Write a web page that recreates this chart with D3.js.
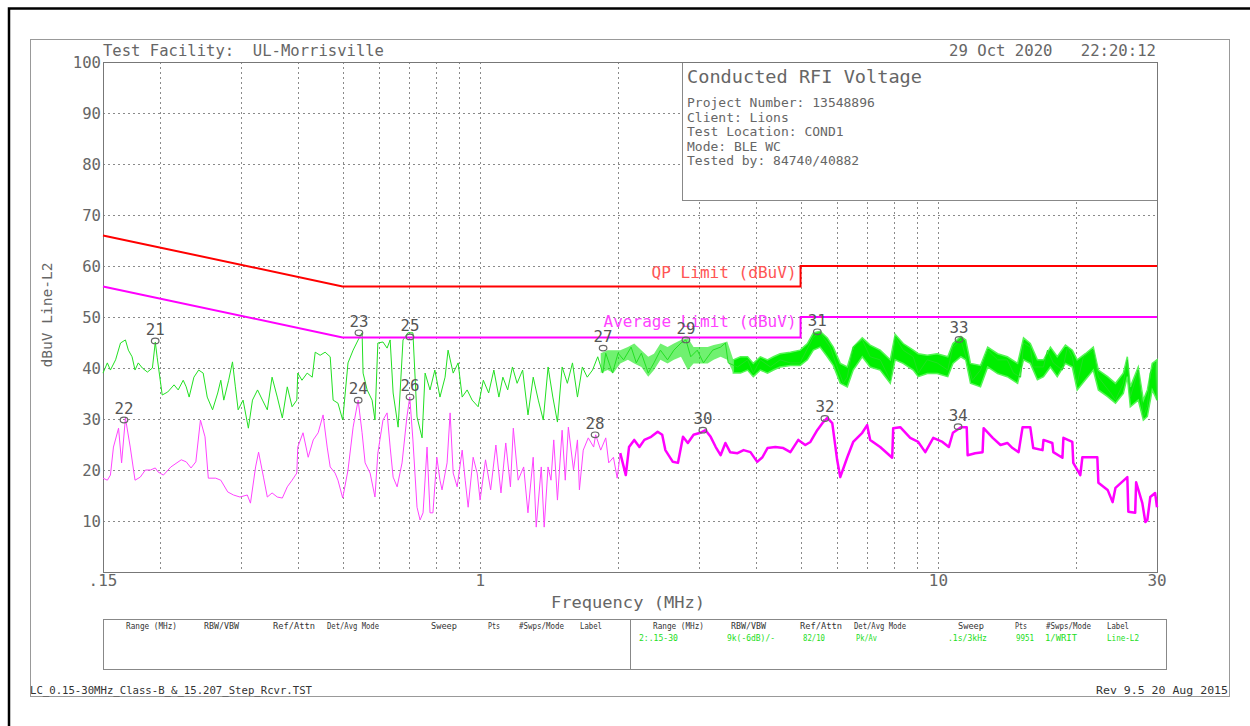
<!DOCTYPE html>
<html><head><meta charset="utf-8">
<script src="https://cdn.jsdelivr.net/npm/d3@7"></script>
<style>body{margin:0;background:#fff}svg{display:block}text{font-family:"DejaVu Sans Mono",monospace;white-space:pre}</style>
</head><body><svg id="c" width="1250" height="726"></svg>
<script>
// ---------- data ----------
const yTicks = [10,20,30,40,50,60,70,80,90,100];
const xTickVals = [0.15,1,10,30];
const xTickLabels = [".15","1","10","30"];
const gridFreqs = [0.2,0.3,0.4,0.5,0.6,0.7,0.8,0.9,1,2,3,4,5,6,7,8,9,10,20];

const qpFreq = [0.15,0.5,5,5,30];
const qpVal  = [66,56,56,60,60];
const avFreq = [0.15,0.5,5,5,30];
const avVal  = [56,46,46,50,50];

// peak detector trace (line)
const peakFreq = [0.15,0.1533,0.1557,0.1598,0.1638,0.1679,0.1704,0.1736,0.1762,0.1791,0.1828,0.1875,0.1923,0.1951,0.197,0.202,0.2077,0.2144,0.2189,0.2245,0.2279,0.2313,0.2369,0.2426,0.2482,0.2533,0.2602,0.267,0.2712,0.2753,0.2821,0.2876,0.2918,0.2959,0.3033,0.3115,0.318,0.3262,0.3344,0.3426,0.3509,0.3602,0.3695,0.3788,0.3881,0.3974,0.3993,0.4078,0.4186,0.4294,0.4359,0.4468,0.4582,0.47,0.477,0.4887,0.5005,0.514,0.5274,0.5409,0.5517,0.5545,0.5659,0.5801,0.5886,0.5972,0.6128,0.6256,0.6353,0.6449,0.6613,0.6778,0.6944,0.7123,0.7272,0.7459,0.7573,0.7763,0.7954,0.8161,0.8373,0.85,0.8721,0.8942,0.9125,0.9356,0.9593,0.9887,1.0149,1.0424,1.07,1.0975,1.1196,1.1471,1.1747,1.2027,1.2365,1.2703,1.3041,1.3378,1.3716,1.4054,1.4392,1.473,1.5081,1.5484,1.5887,1.629,1.6694,1.7111,1.7574,1.8037,1.85,1.8778,1.9426,1.9981,2.0542,2.1332,2.1896,2.2461,2.3251,2.3928,2.4718,2.562,2.6446,2.741,2.8099,2.8788,2.9752,3.0684,3.215,3.3453,3.4267,3.4756,3.6415,3.8302,3.9434,4.0851,4.2979,4.512,4.751,4.99,5.332,5.517,5.806,6.009,6.198,6.324,6.514,6.818,7.095,7.46,7.848,8.045,8.376,8.81,9.033,9.453,9.937,10.479,10.755,11.196,11.581,11.857,12.353,12.81,13.464,14.135,14.586,15.113,15.338,15.865,16.103,16.957,17.299,17.812,18.648,19.124,19.6,20.085,20.72,21.778,22.343,23.76,24.351,25.325,25.844,26.234,27.299,28.01,28.578,29.005,29.716,30];
const peakVal = [39,41,39.6,41.6,44.9,45.5,43.5,42.2,39.6,41,40,39.2,40,45.1,42,34.7,35.3,36.7,35.7,37.6,36.3,34.3,38.2,39.6,39,34.3,31.8,35.1,37.6,33.7,37.6,41.2,36.3,31.8,33.7,28.2,33.7,35.7,33.7,31.8,38.2,34.3,30.2,36.3,32.4,33.7,39,37.6,39,38.2,43.1,42.5,43.1,42.2,33.7,33.1,29.8,41,43.5,45.5,46.9,39,35.7,33.7,29.8,44.9,45.1,43.9,45.5,35.1,28.4,45.5,46.9,46.9,30.4,26.3,39,35.7,39.6,34.3,38.2,43.5,39,41,34.3,35.7,33.7,32.4,37.6,35.1,39.6,34.3,38.2,35.7,40.2,37,39.6,30.8,38.2,33.7,29.8,40.2,34.3,29.4,40.2,37,41,34.3,40.2,38.2,39.6,42.2,39,42.9,39,42.9,41.6,44.1,41,42.9,39,41,43.5,41.6,43.5,44.9,45.5,42.2,43.5,41,43.5,44.1,44.9,41,40.2,41.6,39,41.6,40.2,41.6,41,41,46.1,46.9,44.1,40.2,37,38.2,44.1,45.5,42.2,41.6,37.6,46.1,43.5,42.2,39,41.6,41,39.6,44.1,45.5,41,37.6,39.6,43.5,41.6,41.6,39,38.2,44.9,44.1,40.2,40.2,43.5,41,39.6,44.1,42.2,37,42.2,43.5,38.2,35.1,33.7,37,41.6,34.3,39.6,30.4,32.4,39,41,33.7];

// peak detector noise band (upper / lower envelope) above ~1.8 MHz
const bandFreq = [1.831,1.896,1.952,2.02,2.099,2.167,2.246,2.325,2.393,2.472,2.562,2.645,2.741,2.837,2.92,3.02,3.134,3.231,3.345,3.459,3.566,3.698,3.83,3.943,4.085,4.234,4.362,4.512,4.751,4.99,5.174,5.332,5.517,5.72,5.893,6.104,6.324,6.514,6.818,7.095,7.46,7.848,8.045,8.376,8.81,9.033,9.453,9.937,10.479,10.755,11.196,11.471,11.747,12.353,12.81,13.464,14.135,14.887,15.338,15.865,16.444,16.957,17.556,18.171,18.933,19.6,20.085,20.931,21.778,22.343,23.406,24.351,25.325,25.844,26.234,27.299,28.01,28.578,29.289,30];
const bandHi = [42.9,43.5,43.5,43.5,44.1,44.8,43.5,42.2,42.8,44.8,44.1,44.8,45.5,45.9,44.1,44.1,44.1,44.5,44.8,45.2,41.6,42.2,42.2,40.9,42.2,41.6,42.2,42.8,43.1,43.5,44.8,46.9,47.2,45.9,44.1,40.9,40.2,44.1,45.9,44.5,43.5,41.6,46.6,44.8,43.5,42.8,42.5,42.8,42.2,44.8,46.2,45.5,40.9,40.5,44.1,42.8,42.2,40.9,45.9,44.8,41.6,41.6,44.1,42.2,44.5,43.5,41.6,42.8,44.1,39.6,38.3,37,39,42.2,36.3,40.2,33.7,35.7,40.9,41.6];
const bandLo = [39,39.6,39,40.9,41.6,40.9,40.2,38.3,39.6,41.6,40.9,41.6,42.2,39.6,40.9,40.9,40.9,41.6,42.2,41.6,39,39,39.6,38.3,39.6,39,39.6,40.2,40.5,40.5,41.6,43.5,44.1,42.2,40.5,37,36.3,39.6,42.2,40.2,39.6,37,41.6,40.9,39.6,38.3,38.9,38.9,38.3,40.9,42.2,41.6,37,36.3,40.2,38.9,38.3,37,41.6,40.9,37.7,38.3,40.2,38.3,40.9,40.2,35.7,37.7,39.6,35.7,34.4,33.1,35,38.3,32.4,33.7,29.8,30.5,35.7,33.7];

// average detector trace
const avgFreq = [0.15,0.1533,0.1557,0.1581,0.1622,0.1647,0.1679,0.172,0.1762,0.1809,0.1856,0.1904,0.1951,0.1979,0.2032,0.211,0.2223,0.2279,0.2335,0.2392,0.2448,0.2505,0.2547,0.2643,0.2712,0.2808,0.289,0.2986,0.3098,0.3148,0.323,0.3279,0.3361,0.3426,0.3509,0.3602,0.3695,0.3788,0.3881,0.3974,0.3993,0.41,0.4208,0.4316,0.4424,0.4535,0.4629,0.47,0.4817,0.4887,0.5005,0.514,0.5274,0.5409,0.5517,0.5602,0.5744,0.5886,0.5972,0.6128,0.6256,0.6353,0.6449,0.658,0.6745,0.6911,0.7011,0.7123,0.7272,0.7384,0.7496,0.7648,0.7763,0.7877,0.8034,0.8161,0.8246,0.8458,0.8588,0.8721,0.8898,0.9125,0.9264,0.9403,0.9642,0.9838,0.9985,1.026,1.053,1.081,1.109,1.136,1.163,1.18,1.209,1.243,1.27,1.304,1.324,1.358,1.378,1.405,1.426,1.446,1.473,1.508,1.532,1.556,1.597,1.629,1.645,1.677,1.72,1.767,1.785,1.831,1.878,1.906,1.952,1.989,2.02,2.077,2.111,2.167,2.224,2.28,2.359,2.438,2.494,2.534,2.631,2.7,2.769,2.837,2.92,3.02,3.101,3.182,3.264,3.345,3.427,3.509,3.642,3.755,3.887,4.021,4.128,4.234,4.404,4.584,4.751,4.943,5.121,5.253,5.437,5.604,5.72,5.864,6.009,6.104,6.324,6.514,6.818,6.987,7.095,7.46,7.926,7.965,8.252,8.677,9.033,9.36,9.743,10.204,10.534,10.755,11.196,11.526,11.581,12.026,12.484,12.549,13.137,13.66,14.135,14.511,14.962,15.263,15.865,16.103,16.872,16.957,17.726,17.812,18.648,18.743,19.6,19.695,20.402,20.614,22.224,22.343,23.406,23.997,24.351,25.844,25.974,26.883,27.014,27.867,28.294,28.578,29.005,29.716,30];
const avgVal = [18.4,18,19,24.5,28.2,21.4,30.2,24.5,18,18.6,20,20,20.4,19.6,19,20.6,22,21.6,20.4,21.6,29.8,26.5,18.4,18.4,18,15.7,15.1,14.7,15.1,13.5,20.6,23.5,18.6,14.7,15.5,14.7,14.5,16.7,18,19.4,24.5,27.3,22.5,25.9,27.3,30.8,24.5,20.6,19.4,18,14.5,20,28.4,33.7,27.3,21.4,19.4,14.7,23.3,29.8,31.2,24.5,18.6,16.7,21.4,30.4,34.3,25.9,12.7,10.2,11.6,24.5,11.6,11.6,22.5,18,16.1,21.4,31.2,19.4,16.7,23.9,18,12.7,22.5,19.4,14.1,22,16.1,24.9,15.5,25.3,16.7,28.2,18,20.6,11.6,22.5,8.8,20.6,8.8,20.6,18,25.9,14.1,27.8,18,28.4,20,25.9,16.1,23.9,26.3,24.5,26.9,23.9,26.3,21.4,22.5,18.4,23.3,19,24.5,25.9,24.5,25.9,26.5,27.5,26.9,23.9,21.6,21.4,26.5,25.3,26.9,27.3,27.8,26.5,24.5,22.9,25.3,23.5,23.3,23.9,23.5,21.6,22.5,24.3,24.5,24.3,23.5,25.9,24.9,25.5,27.8,29.4,30.2,29.2,22,18.6,22.5,25.5,27.3,28.8,25.9,24.5,22.4,28.2,28.4,26.3,25.5,23.5,26.3,25.5,24.5,27.3,28.4,28.4,22.9,23.3,23.5,28.2,26.3,24.9,25.3,24.3,23.5,28.4,28.4,24.3,23.9,25.9,25.3,23.5,22.4,26.3,25.5,21.4,19,22.5,22.5,17.5,16.1,13.7,16.5,18.6,11.8,11.6,17.6,13.5,9.8,10.2,14.7,15.5,12.7];

const markerIds  = ["21","22","23","24","25","26","27","28","29","30","31","32","33","34"];
const markerFreq = [0.195,0.1667,0.543,0.541,0.702,0.702,1.853,1.78,2.81,3.06,5.44,5.65,11.09,11.04];
const markerVal  = [45.3,29.8,46.9,33.7,46.1,34.3,43.9,26.9,45.5,27.8,47.1,30.1,45.6,28.5];

const infoTitle = "Conducted RFI Voltage";
const infoLines = ["Project Number: 13548896","Client: Lions","Test Location: COND1","Mode: BLE WC","Tested by: 84740/40882"];
const tableHeads = ["Range (MHz)","RBW/VBW","Ref/Attn","Det/Avg Mode","Sweep","Pts","#Swps/Mode","Label"];
const tableValues = ["2:.15-30","9k(-6dB)/-","82/10","Pk/Av",".1s/3kHz","9951","1/WRIT","Line-L2"];

// ---------- drawing ----------
const svg = d3.select("#c");
const L = 103, R = 1157, T = 62, B = 572;
const x = d3.scaleLog().domain([0.15,30]).range([L,R]);
const y = d3.scaleLinear().domain([0,100]).range([B,T]);
const GRAY = "#666";

function txt(px, py, s, o = {}) {
  const t = svg.append("text").attr("x", px).attr("y", py).text(s)
    .attr("font-size", o.size || 15).attr("fill", o.fill || GRAY)
    .attr("text-anchor", o.anchor || "start");
  if (o.len) t.attr("textLength", o.len).attr("lengthAdjust", o.adj || "spacingAndGlyphs");
  if (o.rot) t.attr("transform", `rotate(${o.rot},${px},${py})`);
  return t;
}

// outer frames
svg.append("path").attr("d","M9,726V8.5H1250").attr("fill","none").attr("stroke","#000").attr("stroke-width",2.5);
svg.append("rect").attr("x",30.5).attr("y",39.5).attr("width",1199).attr("height",657)
  .attr("fill","none").attr("stroke","#999");

// grid
const g = svg.append("g");
g.selectAll(".vg").data(gridFreqs).join("line")
  .attr("x1", d => Math.round(x(d)) + 0.5).attr("x2", d => Math.round(x(d)) + 0.5)
  .attr("y1", T).attr("y2", B).attr("stroke", "#8a8a8a").attr("stroke-dasharray", "2,3");
g.selectAll(".hg").data(yTicks.filter(v => v < 100)).join("line")
  .attr("x1", L).attr("x2", R)
  .attr("y1", d => Math.round(y(d)) + 0.5).attr("y2", d => Math.round(y(d)) + 0.5)
  .attr("stroke", "#8a8a8a").attr("stroke-dasharray", "2,3");

// info box (opaque, over grid)
svg.append("rect").attr("x",682.5).attr("y",T+0.5).attr("width",R-682).attr("height",138)
  .attr("fill","#fff").attr("stroke","#888");
txt(687, 83, infoTitle, {size:18, len:235});
infoLines.forEach((s,i) => txt(687, 107 + i*14.5, s, {size:13}));

// plot frame
svg.append("rect").attr("x",L+0.5).attr("y",T+0.5).attr("width",R-L).attr("height",B-T)
  .attr("fill","none").attr("stroke","#777");

// y ticks
yTicks.forEach(v => txt(101, y(v) + 5.5, String(v), {size:15, anchor:"end", len: String(v).length*9.4}));
// x ticks
xTickVals.forEach((v,i) => txt(x(v), 586, xTickLabels[i], {size:15, anchor:"middle", len: xTickLabels[i].length*9.6}));

// titles
txt(103, 56, "Test Facility:  UL-Morrisville", {size:15, len:281});
txt(1156, 56, "29 Oct 2020   22:20:12", {size:15, anchor:"end", len:207});
txt(628, 608, "Frequency (MHz)", {size:16, anchor:"middle", len:154});
txt(52, 315, "dBuV Line-L2", {size:14, anchor:"middle", len:105, rot:-90});

// traces
const line = d3.line().x(d => x(d[0])).y(d => y(d[1]));
const area = d3.area().x(d => x(d[0])).y0(d => y(d[1])).y1(d => y(d[2]));
const avgData = avgFreq.map((f,i) => [f, avgVal[i]]);
const peakData = peakFreq.map((f,i) => [f, peakVal[i]]);
const bandData = bandFreq.map((f,i) => [f, bandLo[i], bandHi[i]]);

svg.append("path").attr("d", line(avgData.filter(d => d[0] <= 2.1))).attr("fill","none")
  .attr("stroke","#ff44ff").attr("stroke-width",1);
svg.append("path").attr("d", line(avgData.filter(d => d[0] >= 2.0))).attr("fill","none")
  .attr("stroke","#ff00ff").attr("stroke-width",2.5).attr("stroke-linejoin","round");

svg.append("path").attr("d", area(bandData.filter(d => d[0] <= 3.6))).attr("fill","#11e811")
  .attr("fill-opacity",0.6).attr("stroke","none");
svg.append("path").attr("d", area(bandData.filter(d => d[0] >= 3.5))).attr("fill","#00ee00")
  .attr("stroke","#55f555").attr("stroke-width",1.5);
svg.append("path").attr("d", line(peakData)).attr("fill","none")
  .attr("stroke","#22e022").attr("stroke-width",1);

// limits
const qpData = qpFreq.map((f,i) => [f, qpVal[i]]);
const avData = avFreq.map((f,i) => [f, avVal[i]]);
svg.append("path").attr("d", line(qpData)).attr("fill","none").attr("stroke","#ff0000").attr("stroke-width",2);
svg.append("path").attr("d", line(avData)).attr("fill","none").attr("stroke","#ff00ff").attr("stroke-width",2);
txt(x(5) - 4, y(56) - 8, "QP Limit (dBuV)", {size:15, anchor:"end", fill:"#ff5555", len:145});
txt(x(5) - 4, y(46) - 10, "Average Limit (dBuV)", {size:15, anchor:"end", fill:"#ff44ff", len:193});

// markers
markerIds.forEach((id,i) => {
  const mx = x(markerFreq[i]), my = y(markerVal[i]);
  svg.append("ellipse").attr("cx", mx).attr("cy", my).attr("rx", 3.8).attr("ry", 2.8)
    .attr("fill","none").attr("stroke","#666").attr("stroke-width",1.2);
  txt(mx, my - 6, id, {size:16, anchor:"middle", fill:"#555", len:19});
});

// table
svg.append("rect").attr("x",103.5).attr("y",619.5).attr("width",1063).attr("height",50)
  .attr("fill","none").attr("stroke","#888");
svg.append("line").attr("x1",630.5).attr("x2",630.5).attr("y1",619).attr("y2",670).attr("stroke","#888");
const headX = [126,204,273,327,431,488,519,580];
const headW = [51,35,42,52,26,12,45,22];
[0,527].forEach(off => {
  tableHeads.forEach((s,i) => txt(headX[i] + off, 629, s, {size:9, fill:"#333", len:headW[i]}));
});
const valX = [639,727,803,856,948,1016,1045,1107];
const valW = [39,48,22,21,39,18,32,32];
tableValues.forEach((s,i) => txt(valX[i], 641, s, {size:9, fill:"#22dd22", len:valW[i]}));

// footer
txt(30, 694, "LC_0.15-30MHz_Class-B_&_15.207_Step_Rcvr.TST", {size:11, fill:"#333", len:282});
txt(1228, 694, "Rev 9.5 20 Aug 2015", {size:11, fill:"#333", anchor:"end", len:132});
</script></body></html>
